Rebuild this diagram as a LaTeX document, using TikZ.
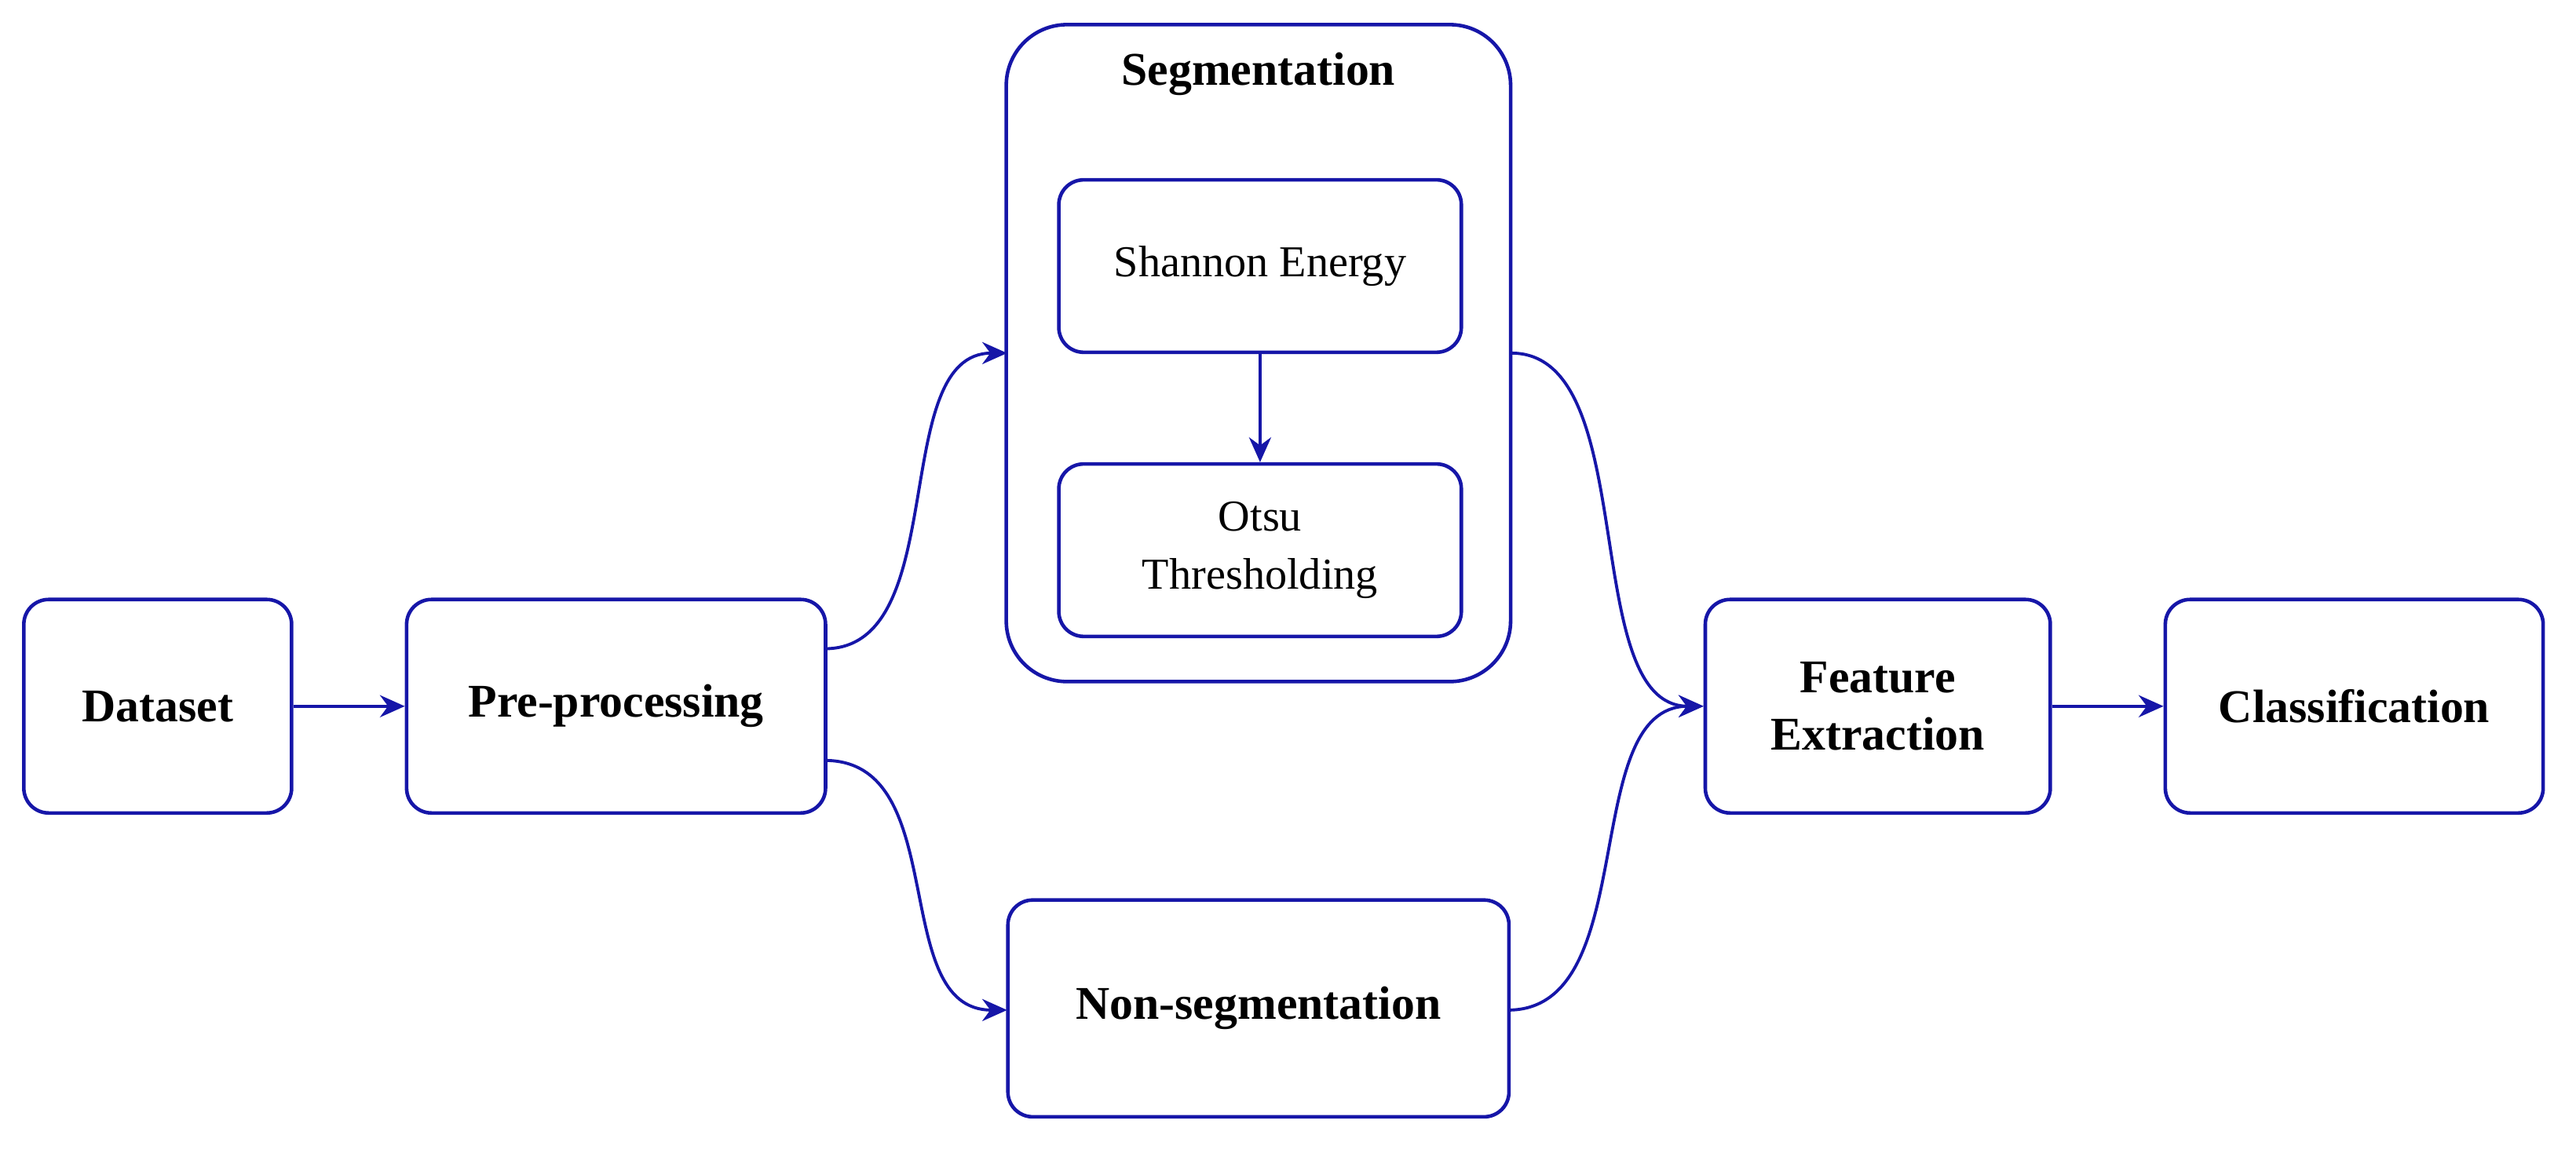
\documentclass[tikz,border=0pt]{standalone}
\usepackage{fontspec}
\setmainfont{Liberation Serif}
\usetikzlibrary{positioning,arrows.meta}
\definecolor{flowblue}{RGB}{22,22,168}
\begin{document}
\begin{tikzpicture}[x=0.020925cm,y=-0.020925cm,
  box/.style={draw=flowblue,line width=1.3pt,rounded corners=9pt,align=center,
    font=\fontsize{17}{21}\selectfont\bfseries,inner sep=0pt},
  sub/.style={box,font=\fontsize{16}{21}\selectfont},
  flow/.style={draw=flowblue,line width=1.1pt,-{Stealth[length=9pt,width=8pt]}}]
\useasboundingbox (0,0) rectangle (1568,702);

% Main boxes
\node[box,minimum width=163*0.020925cm,minimum height=130*0.020925cm] (data) at (96,430) {Dataset};
\node[box,minimum width=255*0.020925cm,minimum height=130*0.020925cm] (prep) at (375,430) {Pre-processing};
\node[box,minimum width=210*0.020925cm,minimum height=130*0.020925cm] (feat) at (1143,430) {Feature\\Extraction};
\node[box,minimum width=230*0.020925cm,minimum height=130*0.020925cm] (class) at (1433,430) {Classification};
\node[box,minimum width=305*0.020925cm,minimum height=132*0.020925cm] (nonseg) at (766,614) {Non-segmentation};

% Segmentation group
\node[box,rounded corners=22pt,minimum width=307*0.020925cm,minimum height=400*0.020925cm] (seg) at (766,215) {};
\node[font=\fontsize{17}{21}\selectfont\bfseries] (segtitle) at (766,45) {Segmentation};
\node[sub,minimum width=245*0.020925cm,minimum height=105*0.020925cm] (shannon) at (767,162) {Shannon Energy};
\node[sub,minimum width=245*0.020925cm,minimum height=105*0.020925cm] (otsu) at (767,335) {Otsu\\Thresholding};

% Connectors
\coordinate (pa) at (502,395);
\coordinate (pb) at (502,463);
\coordinate (sa) at (613,215);
\coordinate (na) at (613,615);
\coordinate (sr) at (920,215);
\coordinate (nr) at (918,615);
\draw[flow] (data) -- (prep);
\draw[flow] (feat) -- (class);
\draw[flow] (shannon) -- (otsu);
\draw[flow] (pa) .. controls (580,395) and (540,215) .. (sa);
\draw[flow] (pb) .. controls (580,463) and (540,615) .. (na);
\draw[flow] (sr) .. controls (1000,215) and (960,430) .. (feat.west);
\draw[flow] (nr) .. controls (1000,615) and (960,430) .. (feat.west);
\end{tikzpicture}
\end{document}
